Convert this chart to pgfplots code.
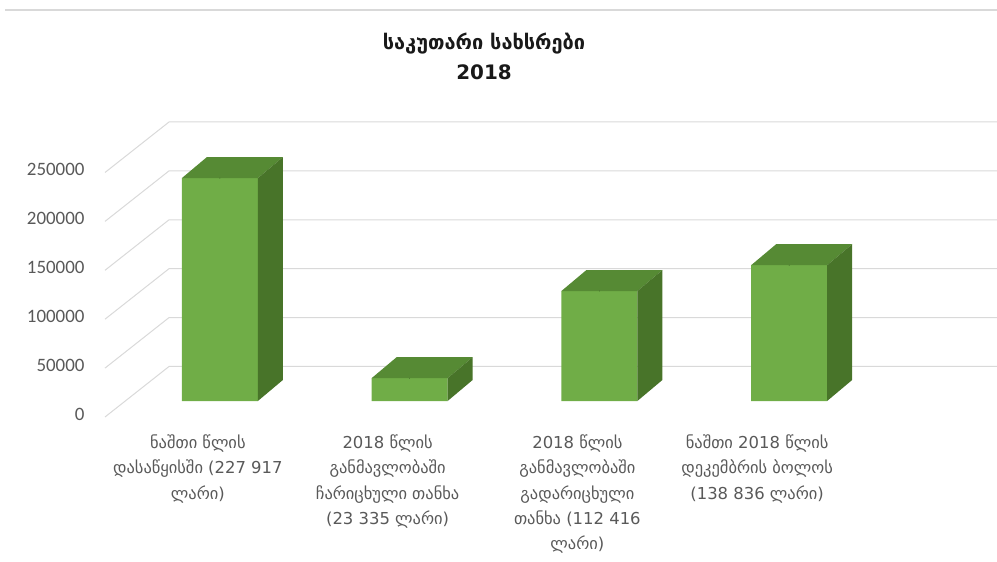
\documentclass[border=0pt]{standalone}
\usepackage{pgfplots}
\pgfplotsset{compat=1.18}
\usepackage{pgfplotstable}
\usepackage{fontspec}
\setmainfont{DejaVu Sans}
\newfontfamily\tickfont{Carlito}
\definecolor{barfront}{RGB}{112,173,71}
\definecolor{bartop}{RGB}{86,138,52}
\definecolor{barside}{RGB}{72,116,41}
\definecolor{gridc}{RGB}{217,217,217}
\definecolor{txt}{RGB}{89,89,89}

\pgfplotstableread{
x y
0 227917
1 23335
2 112416
3 138836
}\funds

\begin{document}
\begin{tikzpicture}
\useasboundingbox (0,0) rectangle (997bp,562bp);
\draw[gridc, line width=1.5bp] (5bp,552bp) -- (997bp,552bp);
\node[font=\bfseries\fontsize{20}{30}\selectfont, align=center, text=black!90] at (484bp,506bp) {საკუთარი სახსრები\\2018};
\begin{axis}[
  at={(125bp,161bp)}, anchor=south west,
  scale only axis, width=759bp, height=244.5bp,
  xmin=-0.5, xmax=3.5, ymin=0, ymax=250000,
  clip=false,
  axis line style={draw=none},
  major tick length=0pt,
  tick style={draw=none},
  xtick={0,1,2,3},
  xticklabels={
    {ნაშთი წლის\\დასაწყისში (227 917\\ლარი)},
    {2018 წლის\\განმავლობაში\\ჩარიცხული თანხა\\(23 335 ლარი)},
    {2018 წლის\\განმავლობაში\\გადარიცხული\\თანხა (112 416\\ლარი)},
    {\hspace*{-20bp}ნაშთი 2018 წლის\\\hspace*{-20bp}დეკემბრის ბოლოს\\\hspace*{-20bp}(138 836 ლარი)}},
  xticklabel style={align=center, text=txt, font=\fontsize{16.5}{25.5}\selectfont, xshift=-22bp, yshift=-30bp},
  ytick={0,50000,100000,150000,200000,250000},
  yticklabels={0,50000,100000,150000,200000,250000},
  scaled y ticks=false,
  yticklabel style={text=txt, font=\tickfont\fontsize{19}{19}\selectfont, xshift=-37bp, yshift=-13bp},
]
\pgfplotsinvokeforeach{0,50000,100000,150000,200000,250000}{
  \draw[gridc, line width=1bp] ([shift={(-20bp,-16bp)}]axis cs:-0.5,#1) -- ++(64bp,50.5bp) -- ++(759bp,0);
}
\addplot[ybar, bar width=76bp, fill=barfront, draw=none] table {\funds};
\addplot[scatter, only marks, mark=*, mark size=0.01pt,
  visualization depends on={rawy \as \rawy},
  scatter/@pre marker code/.code={%
    \pgfkeys{/pgf/fpu=true,/pgf/fpu/output format=fixed}%
    \pgfmathsetmacro\hneg{-\rawy*0.000978}%
    \pgfmathsetmacro\hback{21-\rawy*0.000978}%
    \pgfkeys{/pgf/fpu=false}%
    \pgfsetfillcolor{bartop}%
    \pgfpathmoveto{\pgfqpoint{-38bp}{0bp}}%
    \pgfpathlineto{\pgfqpoint{38bp}{0bp}}%
    \pgfpathlineto{\pgfqpoint{63bp}{21bp}}%
    \pgfpathlineto{\pgfqpoint{-13bp}{21bp}}%
    \pgfpathclose
    \pgfusepath{fill}%
    \pgfsetfillcolor{barside}%
    \pgfpathmoveto{\pgfqpoint{38bp}{0bp}}%
    \pgfpathlineto{\pgfqpoint{63bp}{21bp}}%
    \pgfpathlineto{\pgfqpoint{63bp}{\hback bp}}%
    \pgfpathlineto{\pgfqpoint{38bp}{\hneg bp}}%
    \pgfpathclose
    \pgfusepath{fill}%
  },
  scatter/@post marker code/.code={}
] table {\funds};
\end{axis}
\end{tikzpicture}
\end{document}
